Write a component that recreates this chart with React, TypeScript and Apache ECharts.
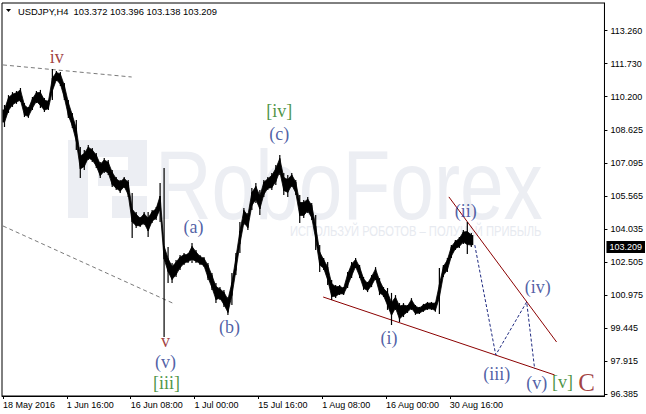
import React, { useEffect, useRef } from "react";
import * as echarts from "echarts";

// ---- data ----
const symbolTitle = "USDJPY,H4";
const lastBar = [103.372, 103.396, 103.138, 103.209]; // O H L C
const barsPerSample = 4; // each sample covers 4 H4 bars

const highs = [
  109.81, 110.27, 110.41, 110.46, 110.6, 109.9, 109.72, 110.18, 110.46, 110.51,
  110.13, 110.04, 111.48, 111.39, 111.34, 110.83, 110.04, 109.44, 109.11, 107.86,
  107.72, 107.95, 107.81, 107.58, 107.16, 107.35, 107.25, 106.79, 106.47, 106.33,
  106.47, 106.33, 105.72, 104.84, 104.61, 104.84, 104.84, 104.93, 105.07, 106.19,
  106.88, 103.21, 102.47, 102.61, 102.84, 102.93, 102.93, 103.4, 103.07, 102.84,
  102.75, 102.47, 102.0, 101.54, 101.35, 101.22, 100.89, 102.0, 102.93, 104.37,
  105.02, 104.79, 105.95, 106.19, 105.86, 106.33, 106.47, 106.65, 107.02, 107.49,
  106.65, 106.56, 106.65, 106.33, 105.63, 105.4, 105.54, 105.26, 104.7, 103.31,
  102.7, 102.52, 101.68, 101.45, 101.45, 101.35, 102.05, 102.52, 102.7, 102.38,
  101.82, 101.59, 101.91, 102.28, 101.77, 101.35, 101.31, 101.08, 100.98, 100.61,
  100.61, 100.52, 100.84, 100.52, 100.43, 100.57, 100.66, 100.66, 100.66, 102.24,
  102.38, 102.7, 103.31, 103.54, 103.68, 104.0, 104.37, 103.86,
];
const lows = [
  108.79, 109.44, 109.72, 109.86, 109.95, 109.25, 109.21, 109.58, 109.9, 109.67,
  109.48, 109.58, 110.04, 110.92, 110.69, 110.04, 109.21, 108.74, 107.72, 106.42,
  106.79, 107.25, 107.16, 106.88, 106.42, 106.65, 106.56, 106.0, 105.86, 105.72,
  105.95, 105.54, 103.63, 104.1, 104.14, 104.24, 103.68, 104.33, 104.47, 104.37,
  99.03, 101.54, 101.54, 101.82, 102.15, 102.38, 102.47, 102.47, 102.47, 102.38,
  102.28, 101.68, 101.22, 100.61, 100.75, 100.43, 100.06, 100.52, 101.91, 102.93,
  104.24, 104.0, 104.93, 105.26, 104.7, 105.54, 105.86, 105.86, 106.09, 106.56,
  105.63, 105.54, 106.0, 105.63, 104.33, 104.56, 104.79, 104.47, 103.07, 102.05,
  102.15, 101.45, 100.75, 100.84, 100.98, 100.98, 101.31, 101.77, 102.24, 101.77,
  101.22, 101.12, 101.35, 101.68, 100.98, 100.89, 100.29, 99.59, 100.29, 99.73,
  99.96, 100.15, 100.29, 100.06, 100.1, 100.2, 100.29, 100.29, 100.2, 100.1,
  101.82, 102.05, 102.7, 103.07, 103.17, 103.35, 102.89, 103.21,
];

const xTickBars = [0, 64, 128, 192, 256, 320, 384, 448];
const xTickLabels = [
  "18 May 2016",
  "1 Jun 16:00",
  "16 Jun 08:00",
  "1 Jul 00:00",
  "15 Jul 16:00",
  "1 Aug 08:00",
  "16 Aug 00:00",
  "30 Aug 16:00",
];
const yTickValues = [
  96.385, 97.915, 99.445, 100.975, 102.505, 104.035, 105.565, 107.095, 108.625,
  110.2, 111.73, 113.26,
];
const yMin = 96.292;
const yMax = 114.547;
const xMin = -1;
const xMax = 603;

const waveTexts = ["iv", "[iv]", "(c)", "(a)", "v", "(v)", "[iii]", "(b)", "(i)", "(ii)", "(iii)", "(iv)", "(v)", "[v]", "C"];
const waveBars = [54, 277, 277, 191, 163, 163, 164, 227, 387, 464, 495, 536, 535, 561, 585];
const wavePrices = [112.04, 109.53, 108.46, 104.14, 98.86, 97.86, 96.9, 99.5, 98.99, 104.89, 97.31, 101.36, 96.9, 96.94, 96.9];
const waveDegrees = ["intermediate", "minor", "minute", "minute", "intermediate", "minute", "minor", "minute", "minute", "minute", "minute", "minute", "minute", "minor", "primary"];

const channelUpper = [[0, 111.67], [129, 111.11]];
const channelLower = [[0, 104.19], [170, 100.61]];
const wedgeLower = [[321, 100.89], [553, 97.27]];
const wedgeUpper = [[447, 105.54], [555, 98.8]];
const projection = [[473, 103.3], [494, 98.2], [525, 100.66], [533, 97.55]];

// ---- styles ----
const degreeStyle: Record<string, { color: string; size: number }> = {
  primary: { color: "#8b0f0f", size: 25 },
  intermediate: { color: "#8b0f0f", size: 18 },
  minor: { color: "#1d7a12", size: 18 },
  minute: { color: "#26388f", size: 18 },
};
const AXIS_FONT = '"Liberation Sans", Arial, sans-serif';
const SERIF = '"Liberation Serif", "Times New Roman", serif';
const WM = "#eceef3";

export default function App() {
  const ref = useRef<HTMLDivElement>(null);
  useEffect(() => {
    if (!ref.current) return;
    const chart = echarts.init(ref.current, undefined, { renderer: "svg" });

    const waveData = waveTexts.map((t, i) => {
      const st = degreeStyle[waveDegrees[i]];
      return {
        value: [waveBars[i], wavePrices[i]],
        label: { formatter: t, color: st.color, fontSize: st.size, lineHeight: st.size },
      };
    });

    const lineSeries = (data: number[][], color: string, type: any, z = 3) => ({
      type: "line",
      data,
      symbol: "none",
      silent: true,
      z,
      lineStyle: { color, width: 1, type },
    });

    // core of the price band (drawn thinner than the full range; wicks show the full range)
    const core = (i: number) => {
      const mid = (highs[i] + lows[i]) / 2;
      const half = Math.min(0.36 * (highs[i] - lows[i]), 0.3);
      return [mid + half, mid - half];
    };

    chart.setOption({
      animation: false,
      backgroundColor: "#fff",
      grid: {
        left: 2,
        right: 40,
        top: 3,
        bottom: 18,
        show: true,
        borderColor: "#000",
        borderWidth: 1,
      },
      graphic: [
        {
          type: "group",
          z: 0,
          silent: true,
          children: [
            { type: "rect", shape: { x: 68, y: 140, width: 20, height: 78 }, style: { fill: WM } },
            { type: "rect", shape: { x: 68, y: 140, width: 79, height: 17 }, style: { fill: WM } },
            { type: "rect", shape: { x: 128, y: 140, width: 19, height: 46 }, style: { fill: WM } },
            { type: "rect", shape: { x: 98, y: 170, width: 49, height: 16 }, style: { fill: WM } },
            { type: "rect", shape: { x: 112, y: 196, width: 35, height: 22 }, style: { fill: WM } },
            {
              type: "text",
              x: 155,
              y: 185,
              scaleX: 0.8,
              style: {
                text: "RoboForex",
                font: `98px ${AXIS_FONT}`,
                fill: WM,
                verticalAlign: "middle",
                align: "left",
              },
            },
            {
              type: "text",
              x: 290,
              y: 232,
              scaleX: 0.8,
              style: {
                text: "ИСПОЛЬЗУЙ РОБОТОВ – ПОЛУЧАЙ ПРИБЫЛЬ",
                font: `14px ${AXIS_FONT}`,
                fill: "#e7eaf0",
                verticalAlign: "middle",
                align: "left",
              },
            },
          ],
        },
        {
          type: "polygon",
          z: 10,
          shape: { points: [[6, 9], [11, 9], [8.5, 12]] },
          style: { fill: "#000" },
        },
        {
          type: "text",
          z: 10,
          x: 18,
          y: 11,
          style: {
            text: `${symbolTitle}  ${lastBar.map((v) => v.toFixed(3)).join(" ")}`,
            font: `9.4px ${AXIS_FONT}`,
            fill: "#000",
            verticalAlign: "middle",
          },
        },
      ],
      xAxis: {
        type: "value",
        min: xMin,
        max: xMax,
        axisLine: { show: true, onZero: false, lineStyle: { color: "#000", width: 1 } },
        axisTick: { show: true, customValues: xTickBars, length: 3, lineStyle: { color: "#000" } },
        axisLabel: {
          customValues: xTickBars,
          formatter: (v: number) => {
            const k = xTickBars.indexOf(Math.round(v));
            return k >= 0 ? xTickLabels[k] : "";
          },
          align: "left",
          color: "#000",
          fontSize: 9,
          fontFamily: AXIS_FONT,
          margin: 4,
        },
        splitLine: { show: false },
      },
      yAxis: {
        type: "value",
        position: "right",
        min: yMin,
        max: yMax,
        axisLine: { show: true, onZero: false, lineStyle: { color: "#000", width: 1 } },
        axisTick: { show: true, customValues: yTickValues, length: 3, lineStyle: { color: "#000" } },
        axisLabel: {
          customValues: yTickValues,
          formatter: (v: number) => v.toFixed(3),
          color: "#000",
          fontSize: 9,
          fontFamily: AXIS_FONT,
          margin: 6,
        },
        splitLine: { show: false },
      },
      series: [
        {
          type: "custom",
          z: 4,
          silent: true,
          clip: true,
          renderItem: (params: any, api: any) => {
            const i = params.dataIndex;
            const b = api.value(0);
            const hi = api.value(1);
            const lo = api.value(2);
            const cx = b + (barsPerSample - 1) / 2;
            const children: any[] = [];
            const wt = api.coord([cx, hi]);
            const wb = api.coord([cx, lo]);
            children.push({
              type: "rect",
              shape: { x: wt[0] - 0.6, y: wt[1], width: 1.2, height: Math.max(1, wb[1] - wt[1]) },
              style: { fill: "#000" },
            });
            const [c1, c0] = core(i);
            if (i === 0) {
              const a = api.coord([b - 0.5, c1]);
              const c = api.coord([cx, c0]);
              children.push({
                type: "rect",
                shape: { x: a[0], y: a[1], width: c[0] - a[0], height: c[1] - a[1] },
                style: { fill: "#000" },
              });
            }
            if (i < highs.length - 1) {
              const [n1, n0] = core(i + 1);
              const nx = cx + barsPerSample;
              const pts = [
                api.coord([cx, c1]),
                api.coord([nx, n1]),
                api.coord([nx, n0]),
                api.coord([cx, c0]),
              ];
              children.push({
                type: "polygon",
                shape: { points: pts },
                style: { fill: "#000", stroke: "#000", lineWidth: 0.8 },
              });
            } else {
              const a = api.coord([cx, c1]);
              const c = api.coord([b + barsPerSample - 0.5, c0]);
              children.push({
                type: "rect",
                shape: { x: a[0], y: a[1], width: c[0] - a[0], height: c[1] - a[1] },
                style: { fill: "#000" },
              });
            }
            return { type: "group", children };
          },
          encode: { x: 0, y: [1, 2] },
          data: highs.map((h, i) => [i * barsPerSample, h, lows[i]]),
        },
        {
          ...lineSeries(channelUpper, "#7a7a7a", [4, 3]),
          markLine: {
            silent: true,
            symbol: ["none", "none"],
            lineStyle: { color: "#000", width: 0, opacity: 0 },
            label: {
              show: true,
              position: "end",
              formatter: lastBar[3].toFixed(3),
              backgroundColor: "#000",
              color: "#fff",
              fontSize: 9,
              fontFamily: AXIS_FONT,
              padding: [2, 3, 1, 3],
              distance: 2,
              opacity: 1,
            },
            data: [{ yAxis: lastBar[3] }],
          },
        },
        lineSeries(channelLower, "#7a7a7a", [4, 3]),
        lineSeries(wedgeLower, "#8b0000", "solid"),
        lineSeries(wedgeUpper, "#8b0000", "solid"),
        lineSeries(projection, "#1f2a80", [3, 2]),
        {
          type: "scatter",
          symbolSize: 1,
          z: 6,
          silent: true,
          itemStyle: { color: "rgba(0,0,0,0)" },
          label: {
            show: true,
            position: "inside",
            fontFamily: SERIF,
            verticalAlign: "middle",
            align: "center",
          },
          data: waveData,
        },
      ],
    });
    return () => chart.dispose();
  }, []);
  return (
    <div
      ref={ref}
      style={{ position: "fixed", left: 0, top: 0, width: 646, height: 414, background: "#fff" }}
    />
  );
}
